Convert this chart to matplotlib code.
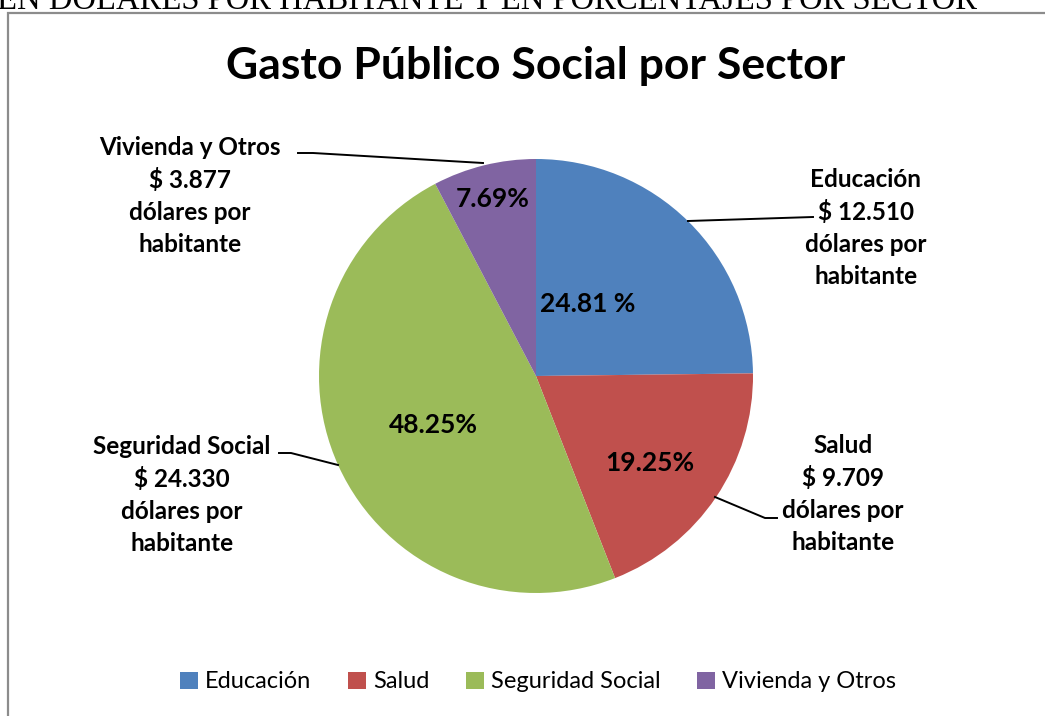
import matplotlib
matplotlib.use("Agg")
import matplotlib.pyplot as plt
from matplotlib.patches import Rectangle, Patch

# data
sectores = ["Educación", "Salud", "Seguridad Social", "Vivienda y Otros"]
dolares = [12510, 9709, 24330, 3877]
montos = ["$ 12.510", "$ 9.709", "$ 24.330", "$ 3.877"]
porcentajes = ["24.81 %", "19.25%", "48.25%", "7.69%"]
colores = ["#4F81BD", "#C0504D", "#9BBB59", "#8064A2"]

W, H = 1045, 716
fig = plt.figure(figsize=(W / 100, H / 100), dpi=100)
ax = fig.add_axes([0, 0, 1, 1])


def py(y):
    # pixel row (from top) -> data y
    return H - y


wedges, _ = ax.pie(dolares, colors=colores, startangle=90, counterclock=False,
                   center=(536, py(376)), radius=217,
                   wedgeprops=dict(linewidth=0))
ax.set_xlim(0, W)
ax.set_ylim(0, H)
ax.set_aspect("equal")
ax.axis("off")

fam = ["Lato", "DejaVu Sans"]

# header from the page, clipped at the top (as in the source)
ax.text(-3, py(9), "EN DÓLARES POR HABITANTE Y EN PORCENTAJES POR SECTOR",
        family="Liberation Serif", fontsize=23.5, va="baseline", ha="left")

# chart border
ax.add_patch(Rectangle((8, py(760)), 1100, 747, fill=False,
                       edgecolor="#8c8c8c", linewidth=1.6))

ax.text(536, py(66), "Gasto Público Social por Sector", family=fam,
        fontsize=32, fontweight="bold", ha="center", va="center")

# percentages inside the slices
pct_pos = [(588, 304), (650, 463), (433, 425), (493, 199)]
for (x, y), p in zip(pct_pos, porcentajes):
    ax.text(x, py(y), p, family=fam, fontsize=19, fontweight="bold",
            ha="center", va="center")

# outside labels
lab_pos = [(866, 228), (843, 494), (182, 495), (190, 196)]
for (x, y), s, m in zip(lab_pos, sectores, montos):
    ax.text(x, py(y), f"{s}\n{m}\ndólares por\nhabitante", family=fam,
            fontsize=17.5, fontweight="bold", ha="center", va="center",
            linespacing=1.45)

# leader lines
leaders = [
    [(688, 221), (813, 217)],
    [(715, 497), (765, 518), (777, 518)],
    [(338, 465), (291, 453), (279, 453)],
    [(483, 163), (313, 153), (298, 153)],
]
for pts in leaders:
    ax.plot([p[0] for p in pts], [py(p[1]) for p in pts], color="black",
            linewidth=1.4)

handles = [Patch(facecolor=c, edgecolor="none") for c in colores]
fig.legend(handles, sectores, loc="center", bbox_to_anchor=(538 / W, 1 - 682 / H),
           ncol=4, frameon=False, prop={"family": fam, "size": 17},
           handlelength=0.75, handleheight=0.75, handletextpad=0.3,
           columnspacing=1.55)

fig.savefig("out.png", dpi=100)
